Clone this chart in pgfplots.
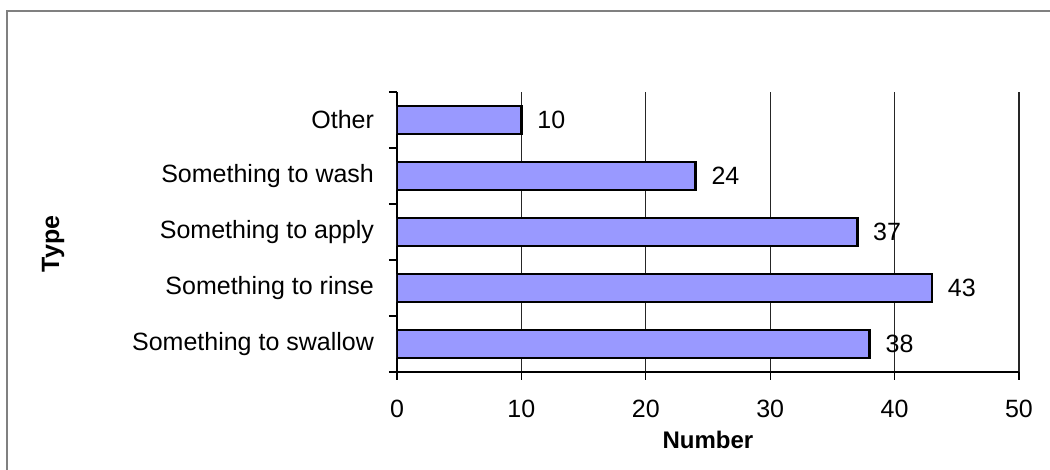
\documentclass[border=0pt]{standalone}
\usepackage{pgfplots}
\pgfplotsset{compat=1.18}
\usepackage{fontspec}
\setmainfont{Liberation Sans}
\definecolor{barfill}{HTML}{9999FF}
\begin{document}
\begin{tikzpicture}
\path[use as bounding box] (0,0) rectangle (525pt,235pt);
\draw[color=gray, line width=1pt] (3.25pt,-2pt) -- (3.25pt,229.5pt) -- (527pt,229.5pt);
\begin{axis}[
  at={(198.5pt,49pt)}, anchor=south west,
  scale only axis, width=311pt, height=140pt,
  xbar, bar width=14pt,
  xmin=0, xmax=50, ymin=-0.5, ymax=4.5,
  axis x line*=bottom, axis y line*=left,
  axis line style={black, line width=0.6pt},
  xtick={0,10,20,30,40,50},
  ytick={0,1,2,3,4},
  yticklabels={Something to swallow, Something to rinse, Something to apply, Something to wash, Other},
  minor ytick={-0.5,0.5,1.5,2.5,3.5,4.5},
  xmajorgrids,
  major grid style={black!85, line width=0.6pt},
  tick align=outside,
  major tick length=4pt, minor tick length=4pt,
  tick style={black, line width=0.6pt},
  major y tick style={draw=none},
  /pgf/number format/assume math mode=true,
  tick label style={font=\fontsize{12.5}{15}\selectfont, black},
  xticklabel style={yshift=-6.5pt},
  yticklabel style={xshift=-4pt},
  xlabel={Number},
  xlabel style={font=\bfseries\fontsize{12}{14}\selectfont, at={(axis description cs:0.5,-0.243)}, anchor=center},
  ylabel={Type},
  ylabel style={font=\bfseries\fontsize{12.5}{14}\selectfont, at={(axis description cs:-0.553,0.457)}, anchor=center},
  nodes near coords,
  every node near coord/.append style={font=\fontsize{12.5}{15}\selectfont, black, xshift=4pt},
]
\addplot[fill=barfill, draw=black, line width=1.3pt] coordinates {(38,0) (43,1) (37,2) (24,3) (10,4)};
\end{axis}
\end{tikzpicture}
\end{document}
